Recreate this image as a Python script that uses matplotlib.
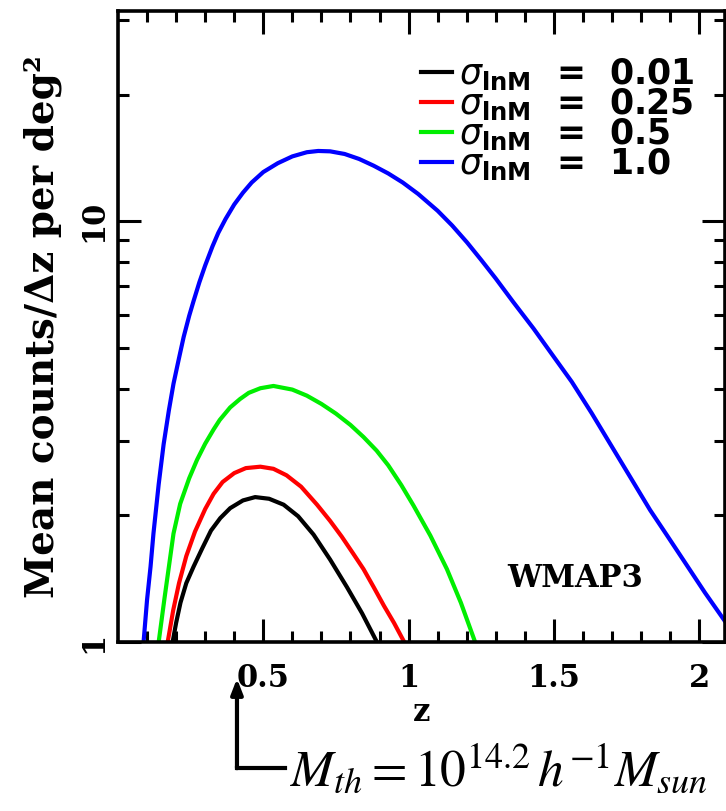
import numpy as np
import matplotlib
matplotlib.use('Agg')
import matplotlib.pyplot as plt

# values (z, mean counts per dz per deg^2)
z_001 = [0.188, 0.200, 0.215, 0.235, 0.260, 0.290, 0.320, 0.352, 0.386, 0.430,
         0.472, 0.520, 0.570, 0.620, 0.673, 0.730, 0.788, 0.840, 0.891]
n_001 = [1.00, 1.11, 1.24, 1.38, 1.51, 1.67, 1.84, 1.97, 2.08, 2.17,
         2.21, 2.19, 2.12, 1.99, 1.80, 1.57, 1.35, 1.17, 1.00]

z_025 = [0.171, 0.190, 0.210, 0.235, 0.265, 0.300, 0.329, 0.360, 0.400, 0.440,
         0.490, 0.535, 0.580, 0.630, 0.685, 0.730, 0.770, 0.810, 0.845, 0.880,
         0.915, 0.950, 0.985]
n_025 = [1.00, 1.19, 1.38, 1.60, 1.83, 2.07, 2.25, 2.40, 2.52, 2.59,
         2.61, 2.58, 2.49, 2.34, 2.12, 1.94, 1.78, 1.62, 1.49, 1.35,
         1.22, 1.11, 1.00]

z_05 = [0.140, 0.160, 0.191, 0.214, 0.245, 0.272, 0.300, 0.329, 0.350, 0.386,
        0.420, 0.450, 0.490, 0.535, 0.600, 0.650, 0.700, 0.750, 0.800, 0.845,
        0.890, 0.930, 0.975, 1.017, 1.075, 1.132, 1.180, 1.229]
n_05 = [1.00, 1.27, 1.81, 2.13, 2.45, 2.71, 2.96, 3.20, 3.37, 3.61,
        3.78, 3.91, 4.01, 4.06, 3.98, 3.85, 3.68, 3.49, 3.28, 3.07,
        2.85, 2.63, 2.36, 2.11, 1.79, 1.49, 1.24, 1.00]

z_10 = [0.088, 0.100, 0.112, 0.122, 0.140, 0.157, 0.175, 0.191, 0.210, 0.226,
        0.245, 0.260, 0.280, 0.300, 0.325, 0.345, 0.370, 0.400, 0.430, 0.460,
        0.500, 0.550, 0.600, 0.650, 0.689, 0.730, 0.780, 0.830, 0.880, 0.930,
        0.980, 1.033, 1.100, 1.150, 1.201, 1.250, 1.300, 1.360, 1.430, 1.500,
        1.562, 1.630, 1.700, 1.770, 1.831, 1.890, 1.950, 2.020, 2.089, 2.120]
n_10 = [1.00, 1.26, 1.51, 1.81, 2.37, 2.95, 3.55, 4.11, 4.73, 5.31,
        5.96, 6.46, 7.16, 7.85, 8.71, 9.38, 10.12, 10.96, 11.69, 12.36,
        13.09, 13.74, 14.26, 14.59, 14.69, 14.66, 14.45, 14.06, 13.55, 12.99,
        12.36, 11.61, 10.59, 9.77, 8.91, 8.09, 7.31, 6.43, 5.56, 4.76,
        4.15, 3.50, 2.91, 2.42, 2.06, 1.79, 1.55, 1.31, 1.12, 1.04]

sigma_labels = ['0.01', '0.25', '0.5', '1.0']
colors = ['black', 'red', '#00ee00', 'blue']
curves = [(z_001, n_001), (z_025, n_025), (z_05, n_05), (z_10, n_10)]

xticks = [0.5, 1, 1.5, 2]
xticklabels = ['0.5', '1', '1.5', '2']
yticks = [1, 10]
yticklabels = ['1', '10']

plt.rcParams['font.family'] = ['DejaVu Serif']
plt.rcParams['mathtext.fontset'] = 'dejavusans'

fig = plt.figure(figsize=(7.26, 8.11), dpi=100)
ax = fig.add_axes([118 / 726, 1 - 642 / 811, 607 / 726, 631 / 811])

for (z, n), c, lab in zip(curves, colors, sigma_labels):
    ax.plot(z, n, color=c, lw=3.0, solid_joinstyle='round',
            label=r'$\sigma_{\mathbf{lnM}}$  =  ' + lab)

ax.set_yscale('log')
ax.set_xlim(0, 2.089)
ax.set_ylim(1, 31.6)

ax.set_xticks(xticks)
ax.set_xticklabels(xticklabels, fontsize=22, fontweight='bold')
ax.set_xticks(np.arange(0.1, 2.09, 0.1), minor=True)
ax.set_yticks(yticks)
ax.set_yticklabels(yticklabels, fontsize=22, fontweight='bold',
                   rotation=90, va='center')
ax.set_yticks([2, 3, 4, 5, 6, 7, 8, 9, 20, 30], minor=True)
ax.yaxis.set_minor_formatter(matplotlib.ticker.NullFormatter())

ax.tick_params(which='both', direction='in', top=True, right=True, width=2.2)
ax.tick_params(which='major', length=16.5)
ax.tick_params(which='minor', length=8)
ax.tick_params(axis='x', which='major', pad=15)
ax.tick_params(axis='y', which='major', pad=6)
for s in ax.spines.values():
    s.set_linewidth(2.6)

ax.set_xlabel('z', fontsize=22, fontweight='bold', labelpad=2)
ax.set_ylabel('Mean counts/\u0394z per deg\u00b2', fontsize=28,
              fontweight='bold', labelpad=12)

leg = ax.legend(loc='upper left', bbox_to_anchor=(0.499, 0.929),
                frameon=False, handlelength=0.9, handletextpad=0.2,
                labelspacing=-0.17, borderpad=0, borderaxespad=0,
                prop=dict(family='DejaVu Sans', weight='bold', size=25))

ax.text(0.753, 0.101, 'WMAP3', transform=ax.transAxes, fontsize=22,
        fontweight='bold', ha='center', va='center')

# threshold-mass arrow under the axis
ax.annotate('', xy=(0.196, -0.058), xytext=(0.196, -0.2),
            xycoords='axes fraction', textcoords='axes fraction',
            arrowprops=dict(arrowstyle='-|>,head_length=0.9,head_width=0.35',
                            color='black', lw=3, shrinkA=0, shrinkB=0),
            annotation_clip=False)
ax.plot([0.196, 0.275], [-0.2, -0.2], color='black', lw=3,
        transform=ax.transAxes, clip_on=False, solid_capstyle='projecting')
fig.text(290 / 726, 1 - 786 / 811, r'$M_{th}=10^{14.2}\,h^{-1}M_{sun}$',
         fontsize=37, math_fontfamily='stix', ha='left', va='baseline')

fig.savefig('out.png', dpi=100)
